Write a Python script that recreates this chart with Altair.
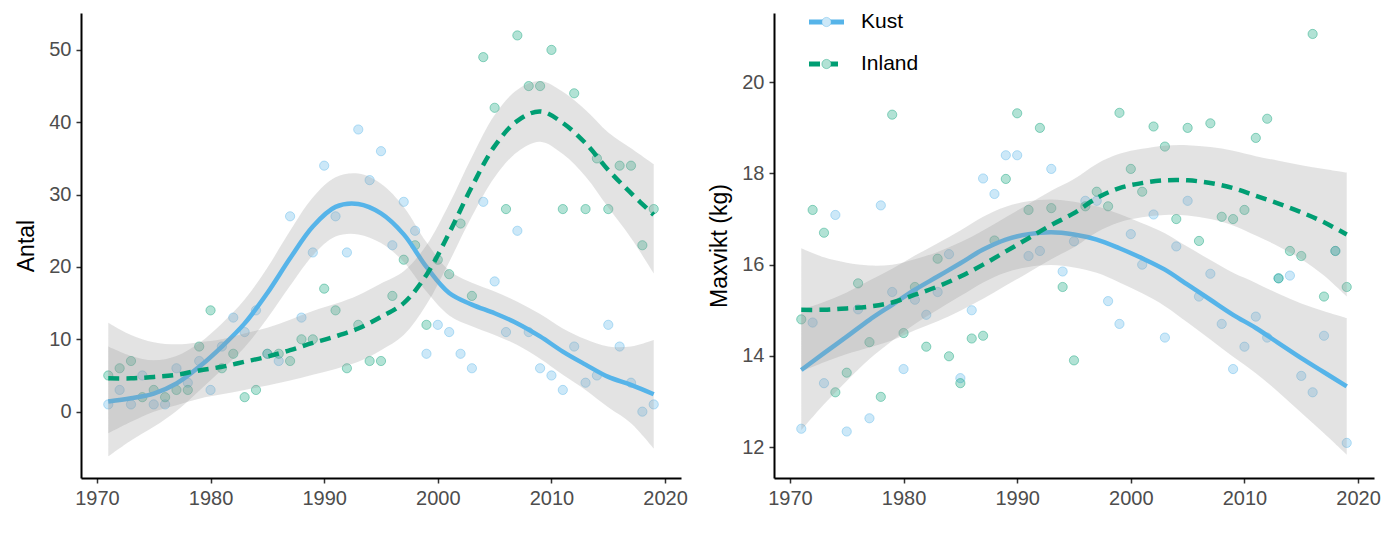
import altair as alt
import pandas as pd

# ---------------- data ----------------
years = list(range(1971, 2020))

antal_kust = [1, 3, 1, 5, 1, 1, 6, 4, 7, 3,
              9, 13, 11, 14, 8, 7, 27, 13, 22, 34,
              27, 22, 39, 32, 36, 23, 29, 25, 8, 12,
              11, 8, 6, 29, 18, 11, 25, 11, 6, 5,
              3, 9, 4, 5, 12, 9, 4, 0, 1]
antal_inland = [5, 6, 7, 2, 3, 2, 3, 3, 9, 14,
                6, 8, 2, 3, 8, 8, 7, 10, 10, 17,
                14, 6, 12, 7, 7, 16, 21, 23, 12, 21,
                19, 26, 16, 49, 42, 28, 52, 45, 45, 50,
                28, 44, 28, 35, 28, 34, 34, 23, 28]

vikt_kust = [12.40, 14.73, 13.40, 17.09, 12.34, 15.02, 12.63, 17.30, 15.40, 13.71,
             15.23, 14.90, 15.40, 16.23, 13.51, 15.00, 17.89, 17.55, 18.40, 18.40,
             16.19, 16.30, 18.10, 15.85, 16.51, 17.40, 17.40, 15.20, 14.70, 16.67,
             16.00, 17.10, 14.40, 16.40, 17.40, 15.30, 15.80, 14.70, 13.71, 14.20,
             14.86, 14.40, 15.70, 15.76, 13.56, 13.20, 14.44, 16.30, 12.09]
vikt_inland = [14.80, 17.20, 16.70, 13.20, 13.63, 15.59, 14.30, 13.10, 19.29, 14.50,
               15.51, 14.20, 16.13, 13.99, 13.40, 14.38, 14.44, 16.53, 17.88, 19.32,
               17.20, 19.00, 17.24, 15.51, 13.90, 17.28, 17.60, 17.28, 19.33, 18.10,
               17.60, 19.03, 18.59, 17.00, 19.00, 16.52, 19.10, 17.05, 17.00, 17.20,
               18.78, 19.20, 15.70, 16.30, 16.19, 21.06, 15.30, 16.30, 15.51]

# smoothed curves at odd years
smooth_years = list(range(1971, 2020, 2))

antal_kust_fit = [1.4, 1.85, 2.5, 3.9, 6.2, 9.0, 12.2, 16.4, 21.2, 25.6, 28.3, 28.7, 27.4,
                  24.5, 20.0, 16.4, 14.8, 13.6, 12.2, 10.4, 8.3, 6.5, 4.8, 3.7, 2.4]
antal_kust_lo = [-6.2, -4.0, -2.1, 0.1, 2.9, 5.8, 8.9, 12.9, 17.4, 21.6, 24.2, 24.5, 23.3,
                 20.7, 16.6, 13.3, 11.8, 10.6, 9.2, 7.3, 5.1, 3.0, 0.6, -1.6, -5.1]
antal_kust_hi = [9.0, 7.7, 7.1, 7.7, 9.5, 12.2, 15.5, 19.9, 25.0, 29.6, 32.4, 32.9, 31.5,
                 28.3, 23.4, 19.5, 17.8, 16.6, 15.2, 13.5, 11.5, 10.0, 9.0, 9.0, 9.9]

antal_inland_fit = [4.6, 4.6, 4.8, 5.1, 5.7, 6.2, 6.9, 7.6, 8.5, 9.5, 10.4, 11.5, 13.1,
                    15.0, 18.9, 24.7, 31.1, 36.7, 40.2, 41.5, 39.9, 37.1, 33.4, 30.2, 27.2]
antal_inland_lo = [-3.0, -1.4, 0.0, 0.9, 1.8, 2.4, 3.0, 3.6, 4.3, 5.1, 5.9, 6.9, 8.5,
                   10.6, 14.8, 20.7, 27.0, 32.4, 35.9, 37.3, 35.6, 32.5, 28.2, 24.0, 19.1]
antal_inland_hi = [12.3, 10.6, 9.6, 9.3, 9.6, 10.0, 10.8, 11.6, 12.7, 13.9, 14.9, 16.1, 17.7,
                   19.4, 23.0, 28.7, 35.2, 41.0, 44.5, 45.7, 44.2, 41.7, 38.6, 36.4, 34.2]

vikt_kust_fit = [13.69, 14.06, 14.42, 14.79, 15.12, 15.45, 15.74, 16.03, 16.33, 16.55, 16.67,
                 16.71, 16.66, 16.55, 16.36, 16.14, 15.89, 15.56, 15.23, 14.90, 14.61, 14.28,
                 13.95, 13.64, 13.33]
vikt_kust_lo = [12.37, 12.94, 13.45, 13.93, 14.33, 14.70, 15.01, 15.31, 15.61, 15.83, 15.95,
                15.99, 15.94, 15.82, 15.61, 15.37, 15.09, 14.73, 14.36, 13.98, 13.62, 13.20,
                12.75, 12.30, 11.83]
vikt_kust_hi = [15.01, 15.18, 15.39, 15.65, 15.91, 16.20, 16.47, 16.75, 17.05, 17.27, 17.39,
                17.43, 17.38, 17.28, 17.11, 16.91, 16.69, 16.39, 16.10, 15.82, 15.60, 15.36,
                15.15, 14.98, 14.83]

vikt_inland_fit = [15.01, 15.01, 15.04, 15.08, 15.17, 15.34, 15.52, 15.74, 16.00, 16.29, 16.58,
                   16.87, 17.13, 17.46, 17.68, 17.79, 17.85, 17.85, 17.79, 17.68, 17.51, 17.34,
                   17.15, 16.93, 16.66]
vikt_inland_lo = [13.66, 13.86, 14.04, 14.18, 14.34, 14.56, 14.76, 14.99, 15.25, 15.54, 15.83,
                  16.12, 16.38, 16.71, 16.93, 17.04, 17.09, 17.08, 17.00, 16.86, 16.64, 16.40,
                  16.12, 15.76, 15.30]
vikt_inland_hi = [16.36, 16.16, 16.04, 15.98, 16.00, 16.12, 16.28, 16.49, 16.75, 17.04, 17.33,
                  17.62, 17.88, 18.21, 18.43, 18.54, 18.61, 18.62, 18.58, 18.50, 18.38, 18.28,
                  18.18, 18.10, 18.02]

groups = ["Kust", "Inland"]
colors = ["#56B4E9", "#009E73"]
x_ticks = [1970, 1980, 1990, 2000, 2010, 2020]

FONT = "Liberation Sans"
W, H = 600, 465
INTERP = "catmull-rom"


def make_panel(pk, pi, fits, ydomain, yticks, ytitle, legend=False):
    pts = pd.DataFrame({
        "year": years * 2,
        "value": pk + pi,
        "group": [groups[0]] * len(years) + [groups[1]] * len(years),
    })
    xenc = alt.X("year:Q", scale=alt.Scale(domain=[1968.6, 2021.4], nice=False, zero=False),
                 axis=alt.Axis(values=x_ticks, format="d", title=None))
    yscale = alt.Scale(domain=ydomain, nice=False, zero=False)
    yaxis = alt.Axis(values=yticks, title=ytitle)

    points = alt.Chart(pts).mark_circle(size=85, fillOpacity=0.3, strokeOpacity=0.4,
                                        strokeWidth=1).encode(
        x=xenc,
        y=alt.Y("value:Q", scale=yscale, axis=yaxis),
        color=alt.Color("group:N", scale=alt.Scale(domain=groups, range=colors), legend=None),
        stroke=alt.Stroke("group:N", scale=alt.Scale(domain=groups, range=colors), legend=None),
    )
    layers = [points]
    for g, col, (fit, lo, hi) in zip(groups, colors, fits):
        sdf = pd.DataFrame({"year": smooth_years, "fit": fit, "lo": lo, "hi": hi})
        band = alt.Chart(sdf).mark_area(color="#999999", opacity=0.28, interpolate=INTERP).encode(
            x="year:Q",
            y=alt.Y("lo:Q", scale=yscale),
            y2="hi:Q",
        )
        line_kw = dict(color=col, strokeWidth=4.5, interpolate=INTERP)
        if g == "Inland":
            line_kw["strokeDash"] = [11, 7]
        line = alt.Chart(sdf).mark_line(**line_kw).encode(
            x="year:Q",
            y=alt.Y("fit:Q", scale=yscale),
        )
        layers += [band, line]

    if legend:
        ys = [9, 51]
        for g, col, yy in zip(groups, colors, ys):
            ldf = pd.DataFrame({"label": [g]})
            rk = dict(color=col, strokeWidth=5)
            if g == "Inland":
                rk["strokeDash"] = [11, 7]
            layers.append(alt.Chart(ldf).mark_rule(**rk).encode(
                x=alt.value(35), x2=alt.value(70), y=alt.value(yy)))
            layers.append(alt.Chart(ldf).mark_circle(size=85, color="white", opacity=1).encode(
                x=alt.value(52.5), y=alt.value(yy)))
            layers.append(alt.Chart(ldf).mark_circle(size=85, color=col, fillOpacity=0.3,
                                                     stroke=col, strokeOpacity=0.4, strokeWidth=1).encode(
                x=alt.value(52.5), y=alt.value(yy)))
            layers.append(alt.Chart(ldf).mark_text(align="left", baseline="middle", font=FONT,
                                                   fontSize=21, color="black").encode(
                x=alt.value(87), y=alt.value(yy), text="label:N"))

    return alt.layer(*layers).properties(width=W, height=H)


left = make_panel(antal_kust, antal_inland,
                  [(antal_kust_fit, antal_kust_lo, antal_kust_hi),
                   (antal_inland_fit, antal_inland_lo, antal_inland_hi)],
                  [-9.17, 55.1], [0, 10, 20, 30, 40, 50], "Antal")
right = make_panel(vikt_kust, vikt_inland,
                   [(vikt_kust_fit, vikt_kust_lo, vikt_kust_hi),
                    (vikt_inland_fit, vikt_inland_lo, vikt_inland_hi)],
                   [11.32, 21.52], [12, 14, 16, 18, 20], "Maxvikt (kg)", legend=True)

chart = alt.hconcat(left, right, spacing=20).properties(
    padding={"left": 15, "top": 11, "right": 0, "bottom": 0}
).configure_view(stroke=None).configure_axis(
    grid=False,
    domainColor="black", domainWidth=2,
    tickColor="#333333", tickWidth=1.5, tickSize=5,
    labelFont=FONT, labelFontSize=20, labelColor="#4D4D4D", labelPadding=5,
    titleFont=FONT, titleFontSize=23, titleColor="black", titleFontWeight="normal",
    titlePadding=10,
)

chart.save("out.html", embed_options={"renderer": "svg", "actions": False})
